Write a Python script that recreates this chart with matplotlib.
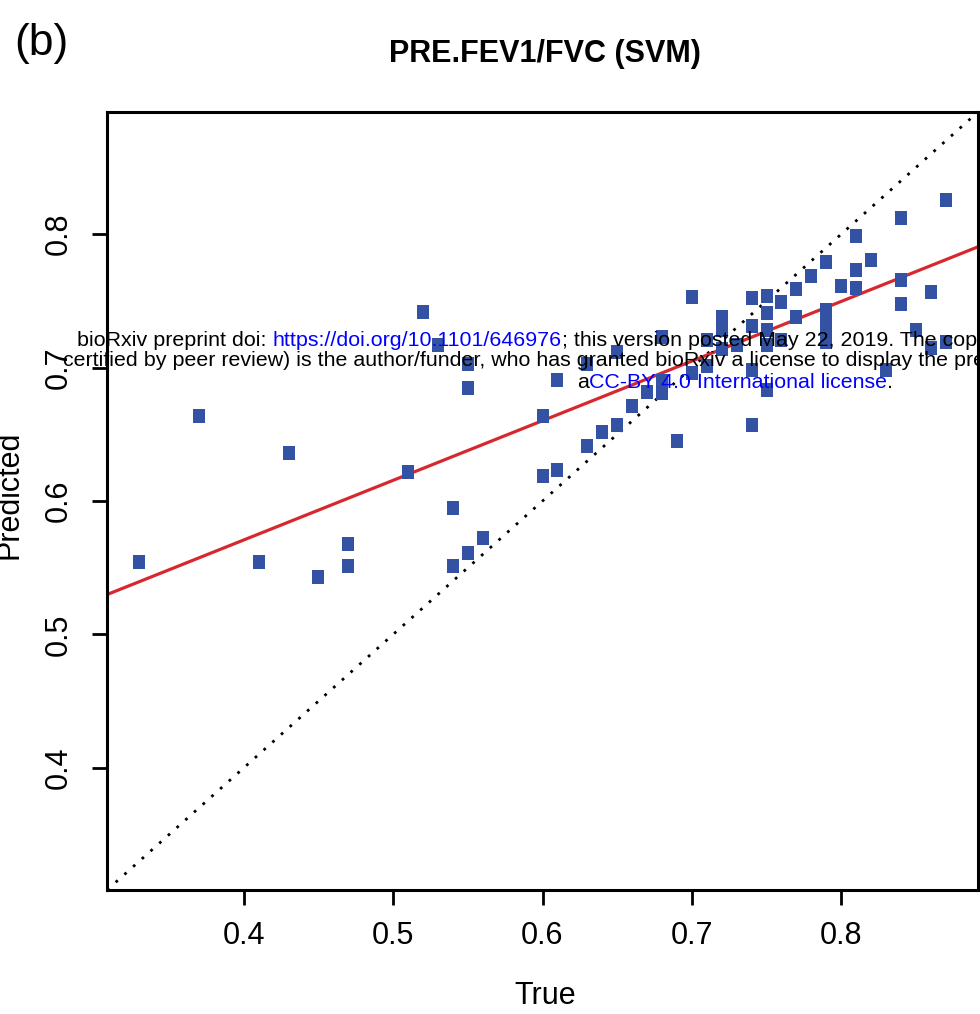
import numpy as np
import matplotlib.pyplot as plt

# Arial-like font, close to the R default Helvetica
plt.rcParams['font.family'] = ['Liberation Sans', 'DejaVu Sans']

true_vals = [0.33, 0.37, 0.41, 0.43, 0.45, 0.47, 0.47, 0.51, 0.52, 0.53,
             0.54, 0.54, 0.55, 0.55, 0.55, 0.56, 0.60, 0.60, 0.61, 0.61,
             0.63, 0.63, 0.64, 0.65, 0.65, 0.66, 0.67, 0.68, 0.68, 0.68,
             0.69, 0.70, 0.70, 0.71, 0.71, 0.72, 0.72, 0.72, 0.73, 0.74,
             0.74, 0.74, 0.74, 0.75, 0.75, 0.75, 0.75, 0.75, 0.76, 0.76,
             0.77, 0.77, 0.78, 0.79, 0.79, 0.79, 0.79, 0.79, 0.80, 0.81,
             0.81, 0.81, 0.82, 0.83, 0.84, 0.84, 0.84, 0.85, 0.86, 0.86,
             0.87, 0.87]
pred_vals = [0.554, 0.664, 0.554, 0.636, 0.543, 0.568, 0.551, 0.622, 0.742, 0.717,
             0.595, 0.551, 0.703, 0.685, 0.561, 0.572, 0.664, 0.619, 0.691, 0.623,
             0.703, 0.641, 0.652, 0.712, 0.657, 0.671, 0.682, 0.723, 0.681, 0.690,
             0.645, 0.753, 0.696, 0.721, 0.701, 0.738, 0.728, 0.714, 0.717, 0.752,
             0.731, 0.698, 0.657, 0.754, 0.741, 0.728, 0.717, 0.683, 0.749, 0.721,
             0.759, 0.738, 0.769, 0.779, 0.743, 0.735, 0.728, 0.719, 0.761, 0.799,
             0.773, 0.760, 0.781, 0.698, 0.812, 0.766, 0.748, 0.728, 0.757, 0.715,
             0.826, 0.719]

# regression line (red) drawn in the original
fit_intercept = 0.392
fit_slope = 0.447

axis_range = (0.3084, 0.8916)
tick_vals = [0.4, 0.5, 0.6, 0.7, 0.8]
tick_labels = ['0.4', '0.5', '0.6', '0.7', '0.8']

W, H = 980, 1014
fig = plt.figure(figsize=(W / 100, H / 100), dpi=100)

# place the axes box where it sits in the picture (pixel coords)
ax = fig.add_axes([107 / W, 1 - 890 / H, (978 - 107) / W, (890 - 112) / H])

# identity line, dotted
ax.plot(axis_range, axis_range, color='black', lw=2, linestyle=(0, (1, 3.2)), zorder=2)
# fitted line
ax.axline((0, fit_intercept), slope=fit_slope, color='#d8282f', lw=2.3, zorder=2)

# squares a bit taller than wide, like the stretched R pch=15
rect = [(-0.42, -0.5), (0.42, -0.5), (0.42, 0.5), (-0.42, 0.5), (-0.42, -0.5)]
ax.scatter(true_vals, pred_vals, marker=rect, s=100, color='#3452a4',
           linewidths=0, zorder=3)

ax.set_xlim(axis_range)
ax.set_ylim(axis_range)
ax.set_xticks(tick_vals)
ax.set_xticklabels(tick_labels)
ax.set_yticks(tick_vals)
ax.set_yticklabels(tick_labels, rotation=90, va='center')

for sp in ax.spines.values():
    sp.set_linewidth(2.2)
ax.tick_params(axis='both', length=11, width=2, labelsize=22, colors='black')
ax.tick_params(axis='x', pad=11)
ax.tick_params(axis='y', pad=13)

# titles and labels
fig.text(545 / W, 1 - 54 / H, 'PRE.FEV1/FVC (SVM)', ha='center', va='center',
         fontsize=22, fontweight='bold')
fig.text(41 / W, 1 - 44 / H, '(b)', ha='center', va='center', fontsize=32)
fig.text(545 / W, 1 - 996 / H, 'True', ha='center', va='center', fontsize=22)
fig.text(10 / W, 1 - 495 / H, 'Predicted', ha='center', va='center',
         rotation=90, fontsize=22)

# bioRxiv watermark stamped over the figure
wm = 15.4
blue = '#0000ff'


def chain(prev, s, color):
    # put the next piece of text right after the previous one
    return ax.annotate(s, xy=(1, 0), xycoords=prev, ha='left', va='bottom',
                       fontsize=wm, color=color, zorder=5)


t = fig.text(77 / W, 1 - 341 / H, 'bioRxiv preprint doi: ', ha='left',
             va='center', fontsize=wm, color='black', zorder=5)
t = chain(t, 'https://doi.org/10.1101/646976', blue)
t = chain(t, '; this version posted May 22, 2019. The copyright holder for this preprint (which was not', 'black')

fig.text(63 / W, 1 - 361 / H,
         'certified by peer review) is the author/funder, who has granted bioRxiv a license to display the preprint in perpetuity. It is made available under',
         ha='left', va='center', fontsize=wm, color='black', zorder=5)

t = fig.text(577 / W, 1 - 383 / H, 'a', ha='left', va='center', fontsize=wm,
             color='black', zorder=5)
t = chain(t, 'CC-BY 4.0 International license', blue)
t = chain(t, '.', 'black')

fig.savefig('out.png', dpi=100)
